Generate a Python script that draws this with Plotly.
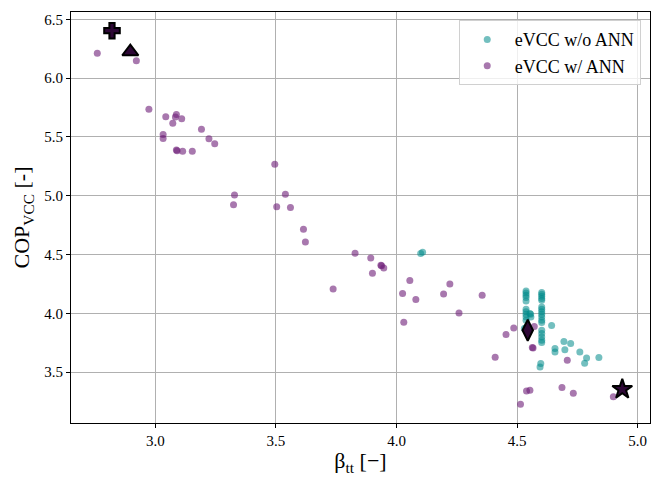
import plotly.graph_objects as go

# eVCC without ANN (teal)
beta_no_ann = [
    4.100, 4.108,
    4.537, 4.537, 4.537, 4.537, 4.537, 4.537, 4.537, 4.537, 4.537, 4.537, 4.537, 4.537,
    4.556, 4.553, 4.557, 4.530,
    4.602, 4.602, 4.602, 4.602, 4.602, 4.602, 4.602, 4.602, 4.602, 4.602, 4.602, 4.602,
    4.602, 4.602, 4.602, 4.602, 4.602,
    4.643, 4.694, 4.722, 4.698, 4.657, 4.657, 4.760, 4.788, 4.780, 4.839, 4.598, 4.595,
]
cop_no_ann = [
    4.509, 4.520,
    4.190, 4.173, 4.154, 4.134, 4.105, 4.034, 4.012, 3.992, 3.969, 3.941, 3.879, 3.862,
    3.992, 3.998, 3.969, 3.870,
    4.177, 4.162, 4.145, 4.126, 4.111, 4.054, 4.034, 4.012, 3.992, 3.969, 3.941, 3.921,
    3.856, 3.828, 3.799, 3.771, 3.751,
    3.896, 3.760, 3.742, 3.690, 3.700, 3.670, 3.671, 3.619, 3.575, 3.623, 3.572, 3.543,
]

# eVCC with ANN (purple)
beta_ann = [
    2.759, 2.921, 2.973, 3.043, 3.087, 3.083, 3.109, 3.072, 3.191, 3.222, 3.246,
    3.032, 3.032, 3.087, 3.090, 3.113, 3.153, 3.495, 3.328, 3.324, 3.539, 3.503,
    3.560, 3.614, 3.622, 3.737, 3.828, 3.893, 3.935, 3.938, 3.947, 3.900, 4.055,
    4.025, 4.080, 4.221, 4.195, 4.355, 4.259, 4.030, 4.409, 4.454, 4.486, 4.571,
    4.563, 4.566, 4.708, 4.539, 4.553, 4.514, 4.686, 4.733, 4.899, 4.545,
]
cop_ann = [
    6.211, 6.148, 5.734, 5.671, 5.691, 5.669, 5.654, 5.615, 5.564, 5.484, 5.441,
    5.521, 5.487, 5.388, 5.383, 5.377, 5.377, 5.268, 5.005, 4.922, 5.013, 4.905,
    4.900, 4.715, 4.607, 4.207, 4.511, 4.471, 4.409, 4.404, 4.386, 4.341, 4.279,
    4.168, 4.117, 4.250, 4.165, 4.154, 4.003, 3.924, 3.626, 3.819, 3.875, 3.887,
    3.709, 3.705, 3.600, 3.339, 3.345, 3.226, 3.368, 3.320, 3.291, 3.860,
]

# Highlighted design points
special_beta = [2.820, 2.896, 4.544, 4.936]
special_cop = [6.403, 6.224, 3.856, 3.354]
special_symbols = ["cross", "triangle-up", "diamond-tall", "star"]
special_sizes = [13, 14, 15, 15]

x_ticks = [3.0, 3.5, 4.0, 4.5, 5.0]
y_ticks = [3.5, 4.0, 4.5, 5.0, 5.5, 6.0, 6.5]

FONT = "Liberation Serif"

fig = go.Figure()
fig.add_trace(go.Scatter(
    x=beta_no_ann, y=cop_no_ann, mode="markers", name="eVCC w/o ANN",
    marker=dict(size=7, color="rgba(0,139,139,0.55)", line=dict(width=0)),
))
fig.add_trace(go.Scatter(
    x=beta_ann, y=cop_ann, mode="markers", name="eVCC w/ ANN",
    marker=dict(size=7, color="rgba(110,30,120,0.6)", line=dict(width=0)),
))
fig.add_trace(go.Scatter(
    x=special_beta, y=special_cop, mode="markers", showlegend=False,
    marker=dict(symbol=special_symbols, size=special_sizes, color="#2e0836",
                opacity=1, line=dict(width=2, color="black")),
))

axis_common = dict(
    showgrid=True, gridcolor="#b0b0b0", gridwidth=1,
    showline=True, linecolor="black", linewidth=1, mirror=True,
    ticks="outside", ticklen=4, tickcolor="black", tickwidth=1,
    zeroline=False, tickfont=dict(family=FONT, size=15, color="black"),
    tickformat=".1f",
)

fig.update_layout(
    width=651, height=481,
    margin=dict(l=71, r=1, t=12, b=58),
    plot_bgcolor="white", paper_bgcolor="white",
    font=dict(family=FONT, color="black"),
    xaxis=dict(axis_common, range=[2.650, 5.051], tickvals=x_ticks,
               title=dict(text="β<sub>tt</sub> [−]", font=dict(size=22), standoff=4)),
    yaxis=dict(axis_common, range=[3.067, 6.562], tickvals=y_ticks,
               title=dict(text="COP<sub>VCC</sub> [-]", font=dict(size=22), standoff=8)),
    legend=dict(
        x=0.984, y=0.98, xanchor="right", yanchor="top",
        bgcolor="rgba(255,255,255,0.8)", bordercolor="#d0d0d0", borderwidth=1,
        font=dict(family=FONT, size=18), itemsizing="trace", itemwidth=45,
    ),
)

fig.write_html("out.html")
